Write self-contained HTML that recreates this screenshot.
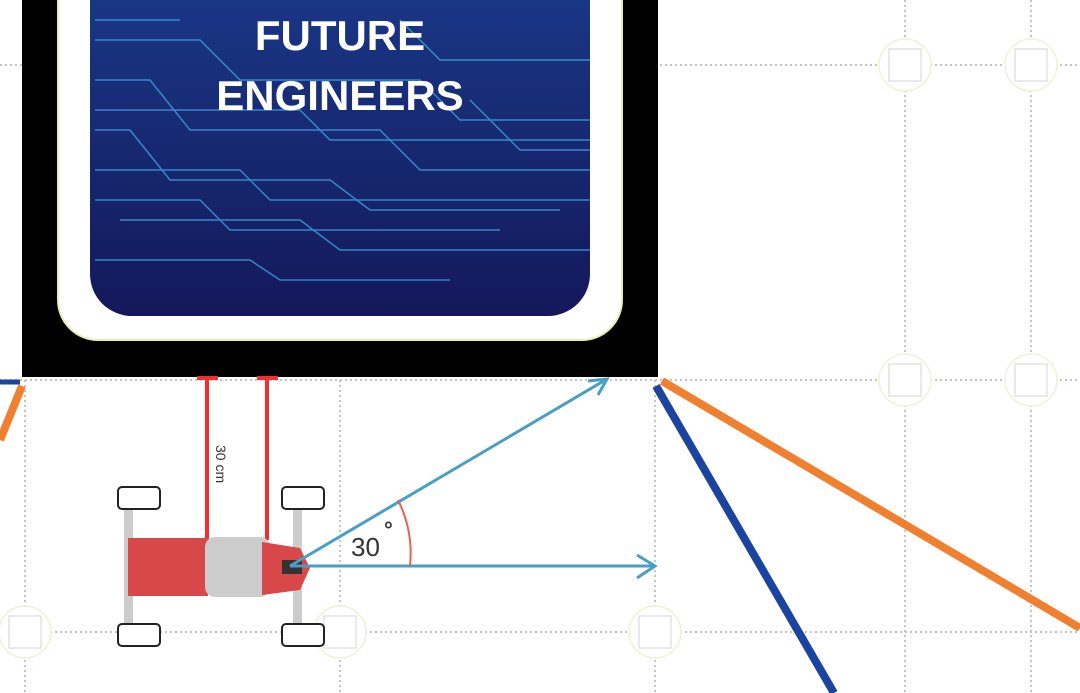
<!DOCTYPE html>
<html><head><meta charset="utf-8"><style>
html,body{margin:0;padding:0;background:#fff;width:1080px;height:693px;overflow:hidden}
svg{display:block}
</style></head><body>
<svg width="1080" height="693" viewBox="0 0 1080 693">
<defs>
<linearGradient id="bg" x1="0" y1="0" x2="0" y2="1"><stop offset="0" stop-color="#1a3a8a"/><stop offset="1" stop-color="#14185a"/></linearGradient>
</defs>
<g stroke="#c4c4c4" stroke-width="2" stroke-dasharray="2 3" fill="none">
<line x1="0" y1="65" x2="1080" y2="65"/><line x1="0" y1="380" x2="1080" y2="380"/><line x1="0" y1="632" x2="1080" y2="632"/>
<line x1="25" y1="0" x2="25" y2="693"/><line x1="340" y1="0" x2="340" y2="693"/><line x1="655" y1="0" x2="655" y2="693"/><line x1="905" y1="0" x2="905" y2="693"/><line x1="1031" y1="0" x2="1031" y2="693"/>
</g>
<g fill="#fff" stroke="#eef0d8" stroke-width="1.5">
<circle cx="905" cy="65" r="26"/><circle cx="1031" cy="65" r="26"/><circle cx="905" cy="380" r="26"/><circle cx="1031" cy="380" r="26"/>
<circle cx="25" cy="632" r="26"/><circle cx="340" cy="632" r="26"/><circle cx="655" cy="632" r="26"/>
<g stroke="#e2e2e2"><rect x="889" y="49" width="32" height="32"/><rect x="1015" y="49" width="32" height="32"/><rect x="889" y="364" width="32" height="32"/><rect x="1015" y="364" width="32" height="32"/><rect x="9" y="616" width="32" height="32"/><rect x="324" y="616" width="32" height="32"/><rect x="639" y="616" width="32" height="32"/></g>
</g>
<g>
<rect x="22" y="0" width="636" height="377" fill="#000"/>
<rect x="58" y="-40" width="564" height="380" rx="40" fill="#fff" stroke="#e8eeb0" stroke-width="2"/>
<rect x="90" y="-40" width="500" height="356" rx="42" fill="url(#bg)"/>
<g stroke="#3fa8e8" stroke-width="1.5" fill="none" opacity="0.75">
<path d="M95 40 L200 40 L240 80 L420 80 L460 120 L590 120"/>
<path d="M95 80 L150 80 L190 130 L380 130 L420 170 L590 170"/>
<path d="M95 130 L130 130 L170 180 L330 180 L370 210 L560 210"/>
<path d="M95 170 L240 170 L270 200 L590 200"/>
<path d="M120 220 L300 220 L340 250 L590 250"/>
<path d="M400 20 L440 60 L590 60"/>
<path d="M95 260 L250 260 L280 280 L450 280"/>
<path d="M470 100 L520 150 L590 150"/>
<path d="M95 110 L300 110 L330 140 L590 140"/>
<path d="M95 200 L200 200 L230 230 L500 230"/>
<path d="M95 20 L180 20"/>
</g>
<text x="340" y="50" text-anchor="middle" fill="#fff" font-family="Liberation Sans, sans-serif" font-weight="bold" font-size="42">FUTURE</text>
<text x="340" y="110" text-anchor="middle" fill="#fff" font-family="Liberation Sans, sans-serif" font-weight="bold" font-size="42">ENGINEERS</text>
</g>
<g stroke-width="8">
<line x1="662" y1="381" x2="1080" y2="628" stroke="#f08030"/>
<line x1="656" y1="386" x2="834" y2="693" stroke="#1a44a0"/>
<line x1="22" y1="386" x2="0" y2="440" stroke="#f08030"/>
<line x1="0" y1="382" x2="20" y2="382" stroke="#1a44a0" stroke-width="5"/>
</g>
<g stroke="#f03030" stroke-width="4">
<line x1="207" y1="378" x2="207" y2="540"/><line x1="197" y1="378" x2="218" y2="378"/>
<line x1="267" y1="378" x2="267" y2="540"/><line x1="257" y1="378" x2="278" y2="378"/>
</g>
<text transform="translate(216,445) rotate(90)" font-family="Liberation Sans, sans-serif" font-size="14" fill="#333">30 cm</text>
<g>
<rect x="124" y="505" width="9" height="125" fill="#ccc"/>
<rect x="293" y="505" width="9" height="125" fill="#ccc"/>
<rect x="118" y="487" width="42" height="22" rx="4" fill="#fff" stroke="#222" stroke-width="2"/>
<rect x="282" y="487" width="42" height="22" rx="4" fill="#fff" stroke="#222" stroke-width="2"/>
<rect x="118" y="624" width="42" height="22" rx="4" fill="#fff" stroke="#222" stroke-width="2"/>
<rect x="282" y="624" width="42" height="22" rx="4" fill="#fff" stroke="#222" stroke-width="2"/>
<rect x="128" y="538" width="80" height="58" fill="#d84848"/>
<rect x="205" y="537" width="65" height="60" rx="10" fill="#ccc"/>
<path d="M262 542 L300 548 L310 568 L300 590 L262 595 Z" fill="#d84848"/>
<rect x="282" y="560" width="20" height="14" fill="#333"/>
</g>
<g stroke="#4a9ec4" stroke-width="3" fill="none">
<line x1="290" y1="566" x2="655" y2="566"/><path d="M637 555 L655 566 L637 578"/>
<line x1="290" y1="566" x2="607" y2="379"/><path d="M588 381 L607 379 L598 395"/>
</g>
<path d="M398 500 A120 120 0 0 1 410 566" stroke="#e86050" stroke-width="2" fill="none"/>
<text x="351" y="556" font-family="Liberation Sans, sans-serif" font-size="26" fill="#333">30</text>
<text x="384" y="537" font-family="Liberation Sans, sans-serif" font-size="22" font-weight="bold" fill="#333">°</text>
</svg>
</body></html>
